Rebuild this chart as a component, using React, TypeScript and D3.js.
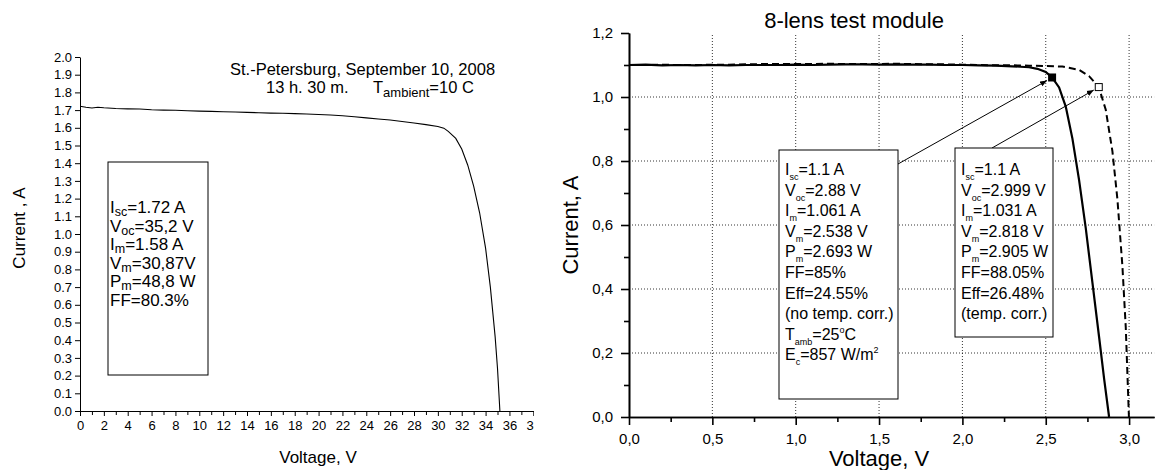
// Two solar module I-V curves: outdoor module (left) and 8-lens test module (right)
import React, { useRef, useEffect } from 'react';
import * as d3 from 'd3';

const FONT = '"Liberation Sans", Arial, sans-serif';

// ---- left panel data ----
const LEFT_V = [0, 0.5, 1, 1.5, 2, 3, 4, 5, 6, 7, 8, 9, 10, 11, 12, 13, 14, 15, 16, 17, 18, 19, 20,
  21, 22, 23, 24, 25, 26, 27, 28, 29, 30, 30.5, 30.87, 31.5, 32, 32.5, 33, 33.5, 34, 34.4, 34.8, 35.0, 35.2];
const LEFT_I = [1.722, 1.716, 1.712, 1.716, 1.713, 1.709, 1.707, 1.706, 1.702, 1.700, 1.699, 1.696, 1.694,
  1.693, 1.691, 1.689, 1.687, 1.685, 1.683, 1.682, 1.680, 1.678, 1.675, 1.672, 1.668, 1.662, 1.656, 1.650,
  1.644, 1.636, 1.627, 1.618, 1.607, 1.598, 1.580, 1.540, 1.480, 1.390, 1.270, 1.120, 0.920, 0.700, 0.420, 0.240, 0.0];
const LEFT_X_TICKS = [0, 2, 4, 6, 8, 10, 12, 14, 16, 18, 20, 22, 24, 26, 28, 30, 32, 34, 36, 38];
const LEFT_X_MINOR = [1, 3, 5, 7, 9, 11, 13, 15, 17, 19, 21, 23, 25, 27, 29, 31, 33, 35, 37];
const LEFT_Y_TICKS = [0, 0.1, 0.2, 0.3, 0.4, 0.5, 0.6, 0.7, 0.8, 0.9, 1.0, 1.1, 1.2, 1.3, 1.4, 1.5, 1.6, 1.7, 1.8, 1.9, 2.0];

// ---- right panel data ----
const SOLID_V = [0, 0.1, 0.2, 0.3, 0.4, 0.5, 0.6, 0.7, 0.8, 0.9, 1.0, 1.1, 1.2, 1.3, 1.4, 1.5, 1.6, 1.7, 1.8,
  1.9, 2.0, 2.1, 2.2, 2.3, 2.4, 2.45, 2.5, 2.538, 2.58, 2.62, 2.66, 2.70, 2.74, 2.78, 2.82, 2.85, 2.88];
const SOLID_I = [1.100, 1.101, 1.099, 1.100, 1.099, 1.100, 1.099, 1.100, 1.100, 1.100, 1.101, 1.100, 1.101,
  1.102, 1.102, 1.101, 1.102, 1.101, 1.101, 1.100, 1.100, 1.099, 1.098, 1.096, 1.093, 1.088, 1.078, 1.061,
  1.030, 0.970, 0.870, 0.740, 0.590, 0.420, 0.250, 0.120, 0.0];
const DASH_V = [0, 0.1, 0.2, 0.3, 0.4, 0.5, 0.6, 0.7, 0.8, 0.9, 1.0, 1.1, 1.2, 1.3, 1.4, 1.5, 1.6, 1.7, 1.8,
  1.9, 2.0, 2.1, 2.2, 2.3, 2.4, 2.5, 2.6, 2.7, 2.76, 2.818, 2.86, 2.9, 2.93, 2.96, 2.98, 2.999];
const DASH_I = [1.100, 1.100, 1.101, 1.100, 1.100, 1.101, 1.101, 1.102, 1.103, 1.103, 1.103, 1.103, 1.104,
  1.103, 1.103, 1.103, 1.104, 1.103, 1.102, 1.102, 1.101, 1.100, 1.099, 1.099, 1.098, 1.097, 1.095, 1.085,
  1.065, 1.031, 0.960, 0.830, 0.680, 0.470, 0.280, 0.0];
const RIGHT_X_TICKS = [0, 0.5, 1.0, 1.5, 2.0, 2.5, 3.0];
const RIGHT_X_MINOR = [0.25, 0.75, 1.25, 1.75, 2.25, 2.75];
const RIGHT_Y_TICKS = [0, 0.2, 0.4, 0.6, 0.8, 1.0, 1.2];
const RIGHT_Y_MINOR = [0.1, 0.3, 0.5, 0.7, 0.9, 1.1];
const MPP_SOLID = [2.538, 1.061];
const MPP_DASH = [2.818, 1.031];

type Seg = { t: string; sub?: boolean; sup?: boolean };

const LEFT_BOX: Seg[][] = [
  [{ t: 'I' }, { t: 'sc', sub: true }, { t: '=1.72 A' }],
  [{ t: 'V' }, { t: 'oc', sub: true }, { t: '=35,2 V' }],
  [{ t: 'I' }, { t: 'm', sub: true }, { t: '=1.58 A' }],
  [{ t: 'V' }, { t: 'm', sub: true }, { t: '=30,87V' }],
  [{ t: 'P' }, { t: 'm', sub: true }, { t: '=48,8 W' }],
  [{ t: 'FF=80.3%' }],
];
const BOX1: Seg[][] = [
  [{ t: 'I' }, { t: 'sc', sub: true }, { t: '=1.1 A' }],
  [{ t: 'V' }, { t: 'oc', sub: true }, { t: '=2.88 V' }],
  [{ t: 'I' }, { t: 'm', sub: true }, { t: '=1.061 A' }],
  [{ t: 'V' }, { t: 'm', sub: true }, { t: '=2.538 V' }],
  [{ t: 'P' }, { t: 'm', sub: true }, { t: '=2.693 W' }],
  [{ t: 'FF=85%' }],
  [{ t: 'Eff=24.55%' }],
  [{ t: '(no temp. corr.)' }],
  [{ t: 'T' }, { t: 'amb', sub: true }, { t: '=25' }, { t: 'o', sup: true }, { t: 'C' }],
  [{ t: 'E' }, { t: 'c', sub: true }, { t: '=857 W/m' }, { t: '2', sup: true }],
];
const BOX2: Seg[][] = [
  [{ t: 'I' }, { t: 'sc', sub: true }, { t: '=1.1 A' }],
  [{ t: 'V' }, { t: 'oc', sub: true }, { t: '=2.999 V' }],
  [{ t: 'I' }, { t: 'm', sub: true }, { t: '=1.031 A' }],
  [{ t: 'V' }, { t: 'm', sub: true }, { t: '=2.818 V' }],
  [{ t: 'P' }, { t: 'm', sub: true }, { t: '=2.905 W' }],
  [{ t: 'FF=88.05%' }],
  [{ t: 'Eff=26.48%' }],
  [{ t: '(temp. corr.)' }],
];

function rich(g: any, x: number, y: number, segs: Seg[], size: number, small: number, subDy: number, supDy: number) {
  const text = g.append('text').attr('x', x).attr('y', y)
    .style('font-size', `${size}px`).attr('fill', '#000');
  let cur = 0;
  segs.forEach(s => {
    const ts = text.append('tspan').text(s.t);
    const target = s.sub ? subDy : s.sup ? supDy : 0;
    ts.attr('dy', target - cur);
    cur = target;
    if (s.sub || s.sup) ts.style('font-size', `${small}px`);
  });
}

function styleAxis(sel: any, width: number, fontSize: number) {
  sel.select('.domain').attr('stroke', '#000').attr('stroke-width', width);
  sel.selectAll('.tick line').attr('stroke', '#000').attr('stroke-width', width);
  sel.selectAll('.tick text').attr('fill', '#000').style('font-size', `${fontSize}px`).style('font-family', FONT);
}

export default function App() {
  const svgRef = useRef<SVGSVGElement>(null);

  useEffect(() => {
    if (!svgRef.current) return;
    document.body.style.margin = '0';
    const svg = d3.select(svgRef.current);
    svg.selectAll('*').remove();
    svg.style('font-family', FONT);

    // ================= left panel =================
    const xL = d3.scaleLinear().domain([0, 38]).range([80, 533.3]);
    const yL = d3.scaleLinear().domain([0, 2]).range([411, 57]);

    svg.append('clipPath').attr('id', 'leftClip')
      .append('rect').attr('x', 0).attr('y', 0).attr('width', 534).attr('height', 470);
    const gl = svg.append('g').attr('clip-path', 'url(#leftClip)');

    gl.append('g').attr('transform', `translate(0,${yL(0)})`)
      .call(d3.axisBottom(xL).tickValues(LEFT_X_MINOR).tickSize(4).tickFormat(() => '').tickSizeOuter(0))
      .call((s: any) => styleAxis(s, 1, 13));
    gl.append('g').attr('transform', `translate(0,${yL(0)})`)
      .call(d3.axisBottom(xL).tickValues(LEFT_X_TICKS).tickSize(5).tickPadding(5).tickFormat(d3.format('d')).tickSizeOuter(0))
      .call((s: any) => styleAxis(s, 1, 13));

    gl.append('g').attr('transform', `translate(${xL(0)},0)`)
      .call(d3.axisLeft(yL).tickValues(LEFT_Y_TICKS).tickSize(5).tickPadding(3).tickFormat(d3.format('.1f')).tickSizeOuter(0))
      .call((s: any) => styleAxis(s, 1, 13));

    const lineL = d3.line<number>().x((_, i) => xL(LEFT_V[i])).y(d => yL(d));
    gl.append('path').attr('d', lineL(LEFT_I)).attr('fill', 'none')
      .attr('stroke', '#000').attr('stroke-width', 1.1);

    gl.append('text').attr('x', 318).attr('y', 463).attr('text-anchor', 'middle')
      .style('font-size', '17px').text('Voltage, V');
    gl.append('text').attr('transform', `translate(25,228) rotate(-90)`).attr('text-anchor', 'middle')
      .style('font-size', '17px').text('Current , A');

    rich(gl, 230, 75, [{ t: 'St.-Petersburg, September 10, 2008' }], 16.5, 12, 4, -6);
    rich(gl, 266, 93, [{ t: '13 h. 30 m.' }], 16.5, 12, 4, -6);
    rich(gl, 373, 93, [{ t: 'T' }, { t: 'ambient', sub: true }, { t: '=10 C' }], 16.5, 13, 4, -6);

    gl.append('rect').attr('x', 108).attr('y', 162).attr('width', 100).attr('height', 213)
      .attr('fill', '#fff').attr('stroke', '#000').attr('stroke-width', 1);
    LEFT_BOX.forEach((segs, i) => rich(gl, 110, 213 + i * 18.6, segs, 17, 12.5, 3, -6));

    // ================= right panel =================
    const xR = d3.scaleLinear().domain([0, 3.15]).range([629, 629 + 3.15 * 166.7]);
    const yR = d3.scaleLinear().domain([0, 1.2]).range([417, 33]);
    const gr = svg.append('g');

    // dotted grid
    RIGHT_X_TICKS.filter(v => v > 0).forEach(v => {
      gr.append('line').attr('x1', xR(v)).attr('x2', xR(v)).attr('y1', yR(0)).attr('y2', yR(1.2))
        .attr('stroke', '#000').attr('stroke-width', 0.8).attr('stroke-dasharray', '1,2');
    });
    RIGHT_Y_TICKS.filter(v => v > 0 && v < 1.2).forEach(v => {
      gr.append('line').attr('x1', xR(0)).attr('x2', xR(3.15)).attr('y1', yR(v)).attr('y2', yR(v))
        .attr('stroke', '#000').attr('stroke-width', 0.8).attr('stroke-dasharray', '1,2');
    });

    gr.append('g').attr('transform', `translate(0,${yR(0)})`)
      .call(d3.axisBottom(xR).tickValues(RIGHT_X_MINOR).tickSize(5).tickFormat(() => '').tickSizeOuter(0))
      .call((s: any) => styleAxis(s, 1.6, 15));
    gr.append('g').attr('transform', `translate(0,${yR(0)})`)
      .call(d3.axisBottom(xR).tickValues(RIGHT_X_TICKS).tickSize(8).tickPadding(8)
        .tickFormat((d: any) => d3.format('.1f')(d).replace('.', ',')).tickSizeOuter(0))
      .call((s: any) => styleAxis(s, 1.6, 15));
    gr.append('g').attr('transform', `translate(${xR(0)},0)`)
      .call(d3.axisLeft(yR).tickValues(RIGHT_Y_MINOR).tickSize(5).tickFormat(() => '').tickSizeOuter(0))
      .call((s: any) => styleAxis(s, 1.6, 15));
    gr.append('g').attr('transform', `translate(${xR(0)},0)`)
      .call(d3.axisLeft(yR).tickValues(RIGHT_Y_TICKS).tickSize(8).tickPadding(8)
        .tickFormat((d: any) => d3.format('.1f')(d).replace('.', ',')).tickSizeOuter(0))
      .call((s: any) => styleAxis(s, 1.6, 15));

    const lineS = d3.line<number>().x((_, i) => xR(SOLID_V[i])).y(d => yR(d));
    const lineD = d3.line<number>().x((_, i) => xR(DASH_V[i])).y(d => yR(d));
    gr.append('path').attr('d', lineD(DASH_I)).attr('fill', 'none').attr('stroke', '#000')
      .attr('stroke-width', 2).attr('stroke-dasharray', '7,4');
    gr.append('path').attr('d', lineS(SOLID_I)).attr('fill', 'none').attr('stroke', '#000')
      .attr('stroke-width', 2.2);

    // arrows to the maximum power points
    const defs = svg.append('defs');
    defs.append('marker').attr('id', 'arr').attr('viewBox', '0 0 10 10').attr('refX', 10).attr('refY', 5)
      .attr('markerWidth', 7).attr('markerHeight', 7).attr('orient', 'auto')
      .append('path').attr('d', 'M0,1 L10,5 L0,9 Z').attr('fill', '#000');
    gr.append('line').attr('x1', 898).attr('y1', 164).attr('x2', xR(MPP_SOLID[0]) - 5).attr('y2', yR(MPP_SOLID[1]) + 3)
      .attr('stroke', '#000').attr('stroke-width', 1).attr('marker-end', 'url(#arr)');
    gr.append('line').attr('x1', 992).attr('y1', 148).attr('x2', xR(MPP_DASH[0]) - 5).attr('y2', yR(MPP_DASH[1]) + 3)
      .attr('stroke', '#000').attr('stroke-width', 1).attr('marker-end', 'url(#arr)');

    gr.append('rect').attr('x', xR(MPP_SOLID[0]) - 4).attr('y', yR(MPP_SOLID[1]) - 4)
      .attr('width', 8).attr('height', 8).attr('fill', '#000');
    gr.append('rect').attr('x', xR(MPP_DASH[0]) - 3.5).attr('y', yR(MPP_DASH[1]) - 3.5)
      .attr('width', 7).attr('height', 7).attr('fill', '#fff').attr('stroke', '#000').attr('stroke-width', 1);

    // parameter boxes
    gr.append('rect').attr('x', 779).attr('y', 150).attr('width', 119).attr('height', 249)
      .attr('fill', '#fff').attr('stroke', '#000').attr('stroke-width', 1);
    BOX1.forEach((segs, i) => rich(gr, 785, 175 + i * 20.6, segs, 16, 9, 5, -7));
    gr.append('rect').attr('x', 955).attr('y', 148).attr('width', 98).attr('height', 189)
      .attr('fill', '#fff').attr('stroke', '#000').attr('stroke-width', 1);
    BOX2.forEach((segs, i) => rich(gr, 961, 175 + i * 20.6, segs, 16, 9, 5, -7));

    gr.append('text').attr('x', xR(1.35)).attr('y', 28).attr('text-anchor', 'middle')
      .style('font-size', '22px').text('8-lens test module');
    gr.append('text').attr('x', xR(1.5)).attr('y', 466).attr('text-anchor', 'middle')
      .style('font-size', '22px').text('Voltage, V');
    gr.append('text').attr('transform', `translate(578,225) rotate(-90)`).attr('text-anchor', 'middle')
      .style('font-size', '22px').text('Current, A');
  }, []);

  return <svg ref={svgRef} width={1155} height={470} style={{ display: 'block', background: '#fff' }} />;
}
